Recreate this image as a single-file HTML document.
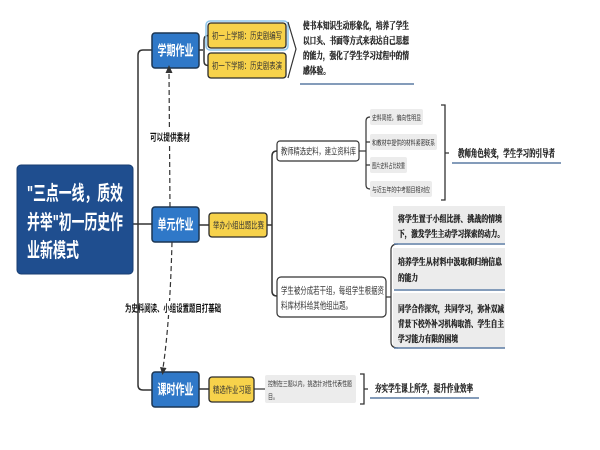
<!DOCTYPE html>
<html><head><meta charset="utf-8">
<style>
html,body{margin:0;padding:0;background:#fff;}
svg{display:block;}
.sans{font-family:"Liberation Sans","Noto Sans CJK SC",sans-serif;}
.serif{font-family:"Liberation Serif","Noto Serif CJK SC",serif;font-weight:bold;stroke:#222;stroke-width:0.35;}
.ln{fill:none;stroke:#333;stroke-width:1.5;}
</style></head>
<body>
<svg width="600" height="450" viewBox="0 0 600 450" xmlns="http://www.w3.org/2000/svg">
<rect width="600" height="450" fill="#fff"/>

<!-- trunk -->
<path class="ln" d="M152,50 H143 Q138,50 138,55 V385 Q138,390 143,390 H152"/>
<path class="ln" d="M133,224 H152"/>

<!-- root -->
<rect x="17" y="165" width="116" height="109" rx="4" fill="#1f4e8f" stroke="#183e72" stroke-width="1"/>
<g class="sans" fill="#fff" font-weight="bold" font-size="20">
<text x="27" y="200" textLength="96" lengthAdjust="spacingAndGlyphs">"三点一线，质效</text>
<text x="27" y="229" textLength="96" lengthAdjust="spacingAndGlyphs">并举"初一历史作</text>
<text x="27" y="257" textLength="52" lengthAdjust="spacingAndGlyphs">业新模式</text>
</g>

<!-- blue level-1 nodes -->
<g stroke="#1b3552" stroke-width="1.5" fill="#2f78c8">
<rect x="152" y="33" width="47" height="35" rx="3"/>
<rect x="152" y="207" width="47" height="35" rx="3"/>
<rect x="152" y="372" width="47" height="35" rx="3"/>
</g>
<g class="sans" fill="#fff" font-weight="bold" font-size="14" text-anchor="middle">
<text x="175.5" y="55.5" textLength="36" lengthAdjust="spacingAndGlyphs">学期作业</text>
<text x="175.5" y="229.5" textLength="36" lengthAdjust="spacingAndGlyphs">单元作业</text>
<text x="175.5" y="394.5" textLength="36" lengthAdjust="spacingAndGlyphs">课时作业</text>
</g>

<!-- dashed connectors -->
<path d="M170,207 L169,72" fill="none" stroke="#333" stroke-width="1.2" stroke-dasharray="5,3"/>
<path d="M169,65 L165.5,73 L172.5,73 Z" fill="#333"/>
<path d="M172,242 Q170,320 163,368" fill="none" stroke="#333" stroke-width="1.2" stroke-dasharray="5,3"/>
<path d="M162.5,375 L160,367 L166.5,368 Z" fill="#333"/>
<rect x="149" y="130" width="43" height="14" fill="#fff"/>
<text class="sans" x="170" y="141" font-size="10" font-weight="bold" fill="#111" text-anchor="middle" textLength="40" lengthAdjust="spacingAndGlyphs">可以提供素材</text>
<rect x="160" y="301" width="25" height="14" fill="#fff"/>
<text class="sans" x="125" y="312" font-size="10" font-weight="bold" fill="#111" textLength="96" lengthAdjust="spacingAndGlyphs">为史料阅读、小组设置题目打基础</text>

<!-- 学期 branch -->
<path class="ln" d="M199,50 H203"/>
<path class="ln" d="M208,35.5 Q204,35.5 204,40 V61 Q204,65.5 208,65.5"/>
<rect x="206" y="21" width="82" height="29" rx="4" fill="none" stroke="#8ec5ea" stroke-width="1.5"/>
<rect x="208" y="23" width="78" height="25" rx="3" fill="#f7d24b" stroke="#2b2b2b" stroke-width="1.3"/>
<rect x="208" y="53" width="78" height="25" rx="3" fill="#f7d24b" stroke="#2b2b2b" stroke-width="1.3"/>
<g class="sans" font-size="9" fill="#333">
<text x="212" y="39" textLength="70" lengthAdjust="spacingAndGlyphs">初一上学期：历史剧编写</text>
<text x="212" y="69" textLength="70" lengthAdjust="spacingAndGlyphs">初一下学期：历史剧表演</text>
</g>
<path d="M288,22 L296,49 L288,78" fill="none" stroke="#333" stroke-width="1.2"/>
<g class="serif" font-size="9.5" fill="#222">
<text x="303" y="29" textLength="106" lengthAdjust="spacingAndGlyphs">使书本知识生动形象化，培养了学生</text>
<text x="303" y="44" textLength="106" lengthAdjust="spacingAndGlyphs">以口头、书面等方式来表达自己思想</text>
<text x="303" y="59" textLength="106" lengthAdjust="spacingAndGlyphs">的能力，强化了学生学习过程中的情</text>
<text x="303" y="74" textLength="27" lengthAdjust="spacingAndGlyphs">感体验。</text>
</g>
<path d="M300,84 H414" stroke="#5b7ba3" stroke-width="1.6"/>

<!-- 单元 branch -->
<path class="ln" d="M199,225 H209"/>
<rect x="209" y="213" width="58" height="24" rx="3" fill="#f7d24b" stroke="#2b2b2b" stroke-width="1.3"/>
<text class="sans" x="213" y="228.5" font-size="9" fill="#333" textLength="51" lengthAdjust="spacingAndGlyphs">举办小组出题比赛</text>
<path class="ln" d="M267,225 H272"/>
<path class="ln" d="M277,151 Q272,151 272,156 V291 Q272,296 277,296"/>

<rect x="277" y="141" width="82" height="20" rx="3" fill="#fff" stroke="#333" stroke-width="1.2"/>
<text class="sans" x="281" y="154.5" font-size="9" fill="#333" textLength="75" lengthAdjust="spacingAndGlyphs">教师精选史料，建立资料库</text>
<path class="ln" d="M359,151 H366" style="stroke-width:1.2"/>
<path d="M370,117 Q366,117 366,121 V185 Q366,189 370,189 M366,142 H370 M366,165 H370" fill="none" stroke="#333" stroke-width="1.2"/>
<g fill="#ececec">
<rect x="370" y="109" width="53" height="16" rx="2"/>
<rect x="370" y="134" width="67" height="16" rx="2"/>
<rect x="370" y="157" width="37" height="16" rx="2"/>
<rect x="370" y="181" width="62" height="16" rx="2"/>
</g>
<g class="sans" font-size="7" fill="#333">
<text x="372" y="120" textLength="49" lengthAdjust="spacingAndGlyphs">史料简短，偏向性明显</text>
<text x="372" y="145" textLength="63" lengthAdjust="spacingAndGlyphs">和教材中提供的材料紧密联系</text>
<text x="372" y="168" textLength="33" lengthAdjust="spacingAndGlyphs">图片史料占比较重</text>
<text x="372" y="192" textLength="58" lengthAdjust="spacingAndGlyphs">与近五年的中考题目相对应</text>
</g>
<path d="M441,105 H445 V200 H441 M445,153 H449" fill="none" stroke="#333" stroke-width="1.3"/>
<text class="serif" x="458" y="157" font-size="10" fill="#222" textLength="97" lengthAdjust="spacingAndGlyphs">教师角色转变，学生学习的引导者</text>
<path d="M452,163 H561" stroke="#5b7ba3" stroke-width="1.6"/>

<rect x="277" y="277" width="109" height="40" rx="4" fill="#fff" stroke="#333" stroke-width="1.2"/>
<g class="sans" font-size="9.5" fill="#333">
<text x="281" y="294" textLength="103" lengthAdjust="spacingAndGlyphs">学生被分成若干组，每组学生根据资</text>
<text x="281" y="309" textLength="71" lengthAdjust="spacingAndGlyphs">料库材料给其他组出题。</text>
</g>
<path class="ln" d="M386,297 H391" style="stroke-width:1.2"/>
<!-- right text boxes -->
<g fill="#ececec">
<rect x="393" y="206" width="112" height="37"/>
<rect x="393" y="248" width="112" height="41"/>
<rect x="393" y="293" width="112" height="55"/>
</g>
<path d="M398,244 Q391,244 391,250 V342 Q391,348 398,348" fill="none" stroke="#333" stroke-width="1.2"/>
<g stroke="#5b7ba3" stroke-width="1.6">
<path d="M394,244 H505"/>
<path d="M394,290 H505"/>
<path d="M394,348 H505"/>
</g>
<g class="serif" font-size="9" fill="#222">
<text x="398" y="222" textLength="104" lengthAdjust="spacingAndGlyphs">将学生置于小组比拼、挑战的情境</text>
<text x="398" y="237" textLength="106" lengthAdjust="spacingAndGlyphs">下，激发学生主动学习探索的动力。</text>
<text x="398" y="265" textLength="104" lengthAdjust="spacingAndGlyphs">培养学生从材料中汲取和归纳信息</text>
<text x="398" y="281" textLength="20" lengthAdjust="spacingAndGlyphs">的能力</text>
<text x="398" y="312" textLength="106" lengthAdjust="spacingAndGlyphs">同学合作探究，共同学习，弥补双减</text>
<text x="398" y="327" textLength="106" lengthAdjust="spacingAndGlyphs">背景下校外补习机构取消、学生自主</text>
<text x="398" y="342" textLength="60" lengthAdjust="spacingAndGlyphs">学习能力有限的困境</text>
</g>

<!-- 课时 branch -->
<path class="ln" d="M199,389 H209"/>
<rect x="209" y="377" width="45" height="25" rx="3" fill="#f7d24b" stroke="#2b2b2b" stroke-width="1.3"/>
<text class="sans" x="213" y="393" font-size="9" fill="#333" textLength="38" lengthAdjust="spacingAndGlyphs">精选作业习题</text>
<path class="ln" d="M254,389 H265" style="stroke-width:1.2"/>
<rect x="265" y="375" width="91" height="28" rx="2" fill="#ececec"/>
<g class="sans" font-size="7" fill="#333">
<text x="268" y="386" textLength="84" lengthAdjust="spacingAndGlyphs">控制在三题以内，挑选针对性代表性题</text>
<text x="268" y="399" textLength="10" lengthAdjust="spacingAndGlyphs">目。</text>
</g>
<path d="M360,374 H364 V404 H360 M364,389 H368" fill="none" stroke="#333" stroke-width="1.3"/>
<text class="serif" x="375" y="392" font-size="10" fill="#222" textLength="98" lengthAdjust="spacingAndGlyphs">夯实学生课上所学，提升作业效率</text>
<path d="M370,398 H479" stroke="#5b7ba3" stroke-width="1.6"/>
</svg>
</body></html>
